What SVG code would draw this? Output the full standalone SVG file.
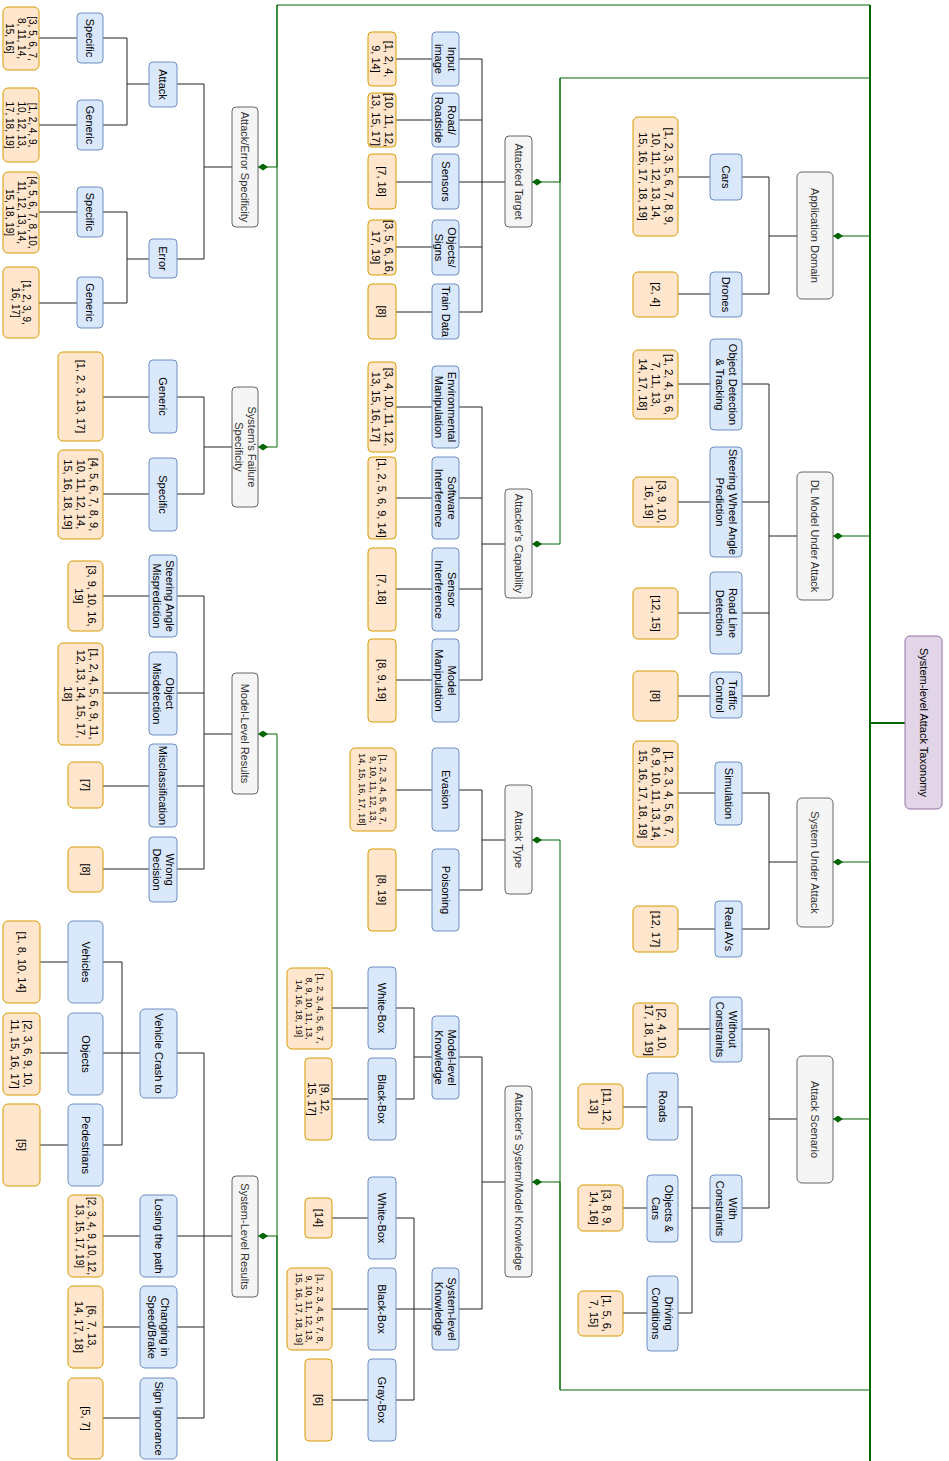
<svg xmlns="http://www.w3.org/2000/svg" width="949" height="1461" viewBox="0 0 949 1461">
<style>
text{font-family:"Liberation Sans",Arial,Helvetica,sans-serif;text-anchor:middle;fill:#000}
.f11{font-size:11px}.f10{font-size:10px}.f9{font-size:9px}
.tc{fill:#333333}
.b{fill:#dae8fc;stroke:#6c8ebf;stroke-width:1}
.o{fill:#ffe6cc;stroke:#d79b00;stroke-width:1}
.c{fill:#f5f5f5;stroke:#666666;stroke-width:1}
.r{fill:#e1d5e7;stroke:#9673a6;stroke-width:1}
.k{fill:none;stroke:#222;stroke-width:1}
.g{fill:none;stroke:#006600;stroke-width:1}
.gt{fill:none;stroke:#006600;stroke-width:2}
</style>
<defs>
<marker id="dia" viewBox="0 0 10 7" refX="10" refY="3.5" markerWidth="10" markerHeight="7" markerUnits="userSpaceOnUse" orient="auto"><path d="M0,3.5 L5,0 L10,3.5 L5,7 Z" fill="#006600"/></marker>
</defs>

<g id="connectors">
<!-- green edges -->
<path class="gt" d="M905,723 H870 M870,5 V1461"/>
<path class="g" d="M870,236 H833" marker-end="url(#dia)"/>
<path class="g" d="M870,536 H833" marker-end="url(#dia)"/>
<path class="g" d="M870,862 H833" marker-end="url(#dia)"/>
<path class="g" d="M870,1119 H833" marker-end="url(#dia)"/>
<path class="g" d="M870,78 H560 V182 H532" marker-end="url(#dia)"/>
<path class="g" d="M560,78 V544 H532" marker-end="url(#dia)"/>
<path class="g" d="M870,1390 H560 V840 H532" marker-end="url(#dia)"/>
<path class="g" d="M560,1390 V1182 H532" marker-end="url(#dia)"/>
<path class="g" d="M870,5 H277 V167 H258" marker-end="url(#dia)"/>
<path class="g" d="M277,5 V447 H258" marker-end="url(#dia)"/>
<path class="g" d="M277,1461 V734 H258" marker-end="url(#dia)"/>
<path class="g" d="M277,1461 V1236 H258" marker-end="url(#dia)"/>
<!-- black tree connectors -->
<path class="k" d="M39,38 H77 M39,125 H77 M103,38 H127 V125 H103 M127,84 H149"/>
<path class="k" d="M39,212 H77 M39,303 H77 M103,212 H127 V303 H103 M127,259 H149"/>
<path class="k" d="M177,84 H204 V259 H177 M204,167 H232"/>
<path class="k" d="M103,397 H149 M103,494 H149 M177,397 H204 V494 H177 M204,447 H232"/>
<path class="k" d="M103,596 H149 M103,693 H149 M103,786 H149 M103,869 H149 M177,596 H204 V869 H177 M177,693 H204 M177,786 H204 M204,734 H232"/>
<path class="k" d="M40,962 H68 M40,1053 H68 M40,1145 H68 M103,962 H122 V1145 H103 M103,1053 H140"/>
<path class="k" d="M103,1236 H140 M103,1327 H140 M103,1418 H140 M177,1053 H204 V1418 H177 M177,1236 H204 M177,1327 H204 M204,1236 H232"/>
<path class="k" d="M396,59 H432 M396,120 H432 M396,182 H432 M396,247 H432 M396,312 H432 M459,59 H482 V312 H459 M459,120 H482 M459,182 H505 M459,247 H482"/>
<path class="k" d="M396,407 H432 M396,498 H432 M396,589 H432 M396,680 H432 M459,407 H482 V680 H459 M459,498 H482 M459,589 H482 M482,544 H505"/>
<path class="k" d="M396,790 H432 M396,890 H432 M459,790 H482 V890 H459 M482,840 H505"/>
<path class="k" d="M332,1008 H368 M332,1099 H368 M396,1008 H414 V1099 H396 M414,1057 H432 M459,1057 H482 V1309 H459 M482,1182 H505"/>
<path class="k" d="M332,1218 H368 M332,1309 H368 M332,1400 H368 M396,1218 H414 V1400 H396 M396,1309 H432"/>
<path class="k" d="M678,177 H710 M678,294 H710 M742,177 H769 V294 H742 M769,236 H797"/>
<path class="k" d="M678,384 H710 M678,502 H710 M678,613 H710 M678,696 H710 M742,384 H769 V696 H742 M742,502 H769 M742,613 H769 M769,536 H797"/>
<path class="k" d="M678,793 H715 M678,929 H715 M742,793 H769 V929 H742 M769,862 H797"/>
<path class="k" d="M678,1029 H710 M742,1029 H769 V1208 H742 M769,1119 H797"/>
<path class="k" d="M623,1107 H647 M623,1208 H647 M623,1313 H647 M678,1107 H692 V1313 H678 M692,1208 H710"/>
</g>

<!-- root -->
<g id="root"><rect class="r" x="905" y="636" width="37" height="173" rx="5"/><text class="f11" transform="translate(923.5,722.5) rotate(90)"><tspan x="0" y="3.9">System-level Attack Taxonomy</tspan></text></g>

<!-- categories -->
<g id="cat-app"><rect class="c" x="797" y="172" width="36" height="127" rx="5"/><text class="f11 tc" transform="translate(815,235.5) rotate(90)"><tspan x="0" y="3.9">Application Domain</tspan></text></g>
<g id="cat-dl"><rect class="c" x="797" y="472" width="36" height="128" rx="5"/><text class="f11 tc" transform="translate(815,536) rotate(90)"><tspan x="0" y="3.9">DL Model Under Attack</tspan></text></g>
<g id="cat-sua"><rect class="c" x="797" y="798" width="36" height="129" rx="5"/><text class="f11 tc" transform="translate(815,862.5) rotate(90)"><tspan x="0" y="3.9">System Under Attack</tspan></text></g>
<g id="cat-scen"><rect class="c" x="797" y="1056" width="36" height="127" rx="5"/><text class="f11 tc" transform="translate(815,1119.5) rotate(90)"><tspan x="0" y="3.9">Attack Scenario</tspan></text></g>
<g id="cat-target"><rect class="c" x="505" y="136" width="27" height="91" rx="4"/><text class="f11 tc" transform="translate(518.5,181.5) rotate(90)"><tspan x="0" y="3.9">Attacked Target</tspan></text></g>
<g id="cat-cap"><rect class="c" x="505" y="489" width="27" height="109" rx="4"/><text class="f11 tc" transform="translate(518.5,543.5) rotate(90)"><tspan x="0" y="3.9">Attacker's Capability</tspan></text></g>
<g id="cat-type"><rect class="c" x="505" y="785" width="27" height="109" rx="4"/><text class="f11 tc" transform="translate(518.5,839.5) rotate(90)"><tspan x="0" y="3.9">Attack Type</tspan></text></g>
<g id="cat-know"><rect class="c" x="505" y="1086" width="27" height="191" rx="4"/><text class="f11 tc" transform="translate(518.5,1181.5) rotate(90)"><tspan x="0" y="3.9">Attacker's System/Model Knowledge</tspan></text></g>
<g id="cat-spec"><rect class="c" x="232" y="107" width="26" height="120" rx="4"/><text class="f11 tc" transform="translate(245,167) rotate(90)"><tspan x="0" y="3.9">Attack/Error Specificity</tspan></text></g>
<g id="cat-fail"><rect class="c" x="232" y="387" width="26" height="120" rx="4"/><text class="f11 tc" transform="translate(245,447) rotate(90)"><tspan x="0" y="-2.6">System's Failure</tspan><tspan x="0" dy="13">Specificity</tspan></text></g>
<g id="cat-model"><rect class="c" x="232" y="673" width="26" height="121" rx="4"/><text class="f11 tc" transform="translate(245,733.5) rotate(90)"><tspan x="0" y="3.9">Model-Level Results</tspan></text></g>
<g id="cat-sys"><rect class="c" x="232" y="1176" width="26" height="121" rx="4"/><text class="f11 tc" transform="translate(245,1236.5) rotate(90)"><tspan x="0" y="3.9">System-Level Results</tspan></text></g>

<!-- right column blue -->
<g id="b-cars"><rect class="b" x="710" y="154" width="32" height="46" rx="4"/><text class="f11" transform="translate(726,177) rotate(90)"><tspan x="0" y="3.9">Cars</tspan></text></g>
<g id="b-drones"><rect class="b" x="710" y="272" width="32" height="45" rx="4"/><text class="f11" transform="translate(726,294.5) rotate(90)"><tspan x="0" y="3.9">Drones</tspan></text></g>
<g id="b-odt"><rect class="b" x="710" y="339" width="32" height="91" rx="4"/><text class="f11" transform="translate(726,384.5) rotate(90)"><tspan x="0" y="-2.6">Object Detection</tspan><tspan x="0" dy="13">&amp; Tracking</tspan></text></g>
<g id="b-swa"><rect class="b" x="710" y="447" width="32" height="110" rx="4"/><text class="f11" transform="translate(726,502) rotate(90)"><tspan x="0" y="-2.6">Steering Wheel Angle</tspan><tspan x="0" dy="13">Prediction</tspan></text></g>
<g id="b-rld"><rect class="b" x="710" y="572" width="32" height="82" rx="4"/><text class="f11" transform="translate(726,613) rotate(90)"><tspan x="0" y="-2.6">Road Line</tspan><tspan x="0" dy="13">Detection</tspan></text></g>
<g id="b-tc"><rect class="b" x="710" y="672" width="32" height="46" rx="4"/><text class="f11" transform="translate(726,695) rotate(90)"><tspan x="0" y="-2.6">Traffic</tspan><tspan x="0" dy="13">Control</tspan></text></g>
<g id="b-sim"><rect class="b" x="715" y="762" width="27" height="63" rx="4"/><text class="f11" transform="translate(728.5,793.5) rotate(90)"><tspan x="0" y="3.9">Simulation</tspan></text></g>
<g id="b-real"><rect class="b" x="715" y="901" width="27" height="56" rx="4"/><text class="f11" transform="translate(728.5,929) rotate(90)"><tspan x="0" y="3.9">Real AVs</tspan></text></g>
<g id="b-wo"><rect class="b" x="710" y="997" width="32" height="65" rx="4"/><text class="f11" transform="translate(726,1029.5) rotate(90)"><tspan x="0" y="-2.6">Without</tspan><tspan x="0" dy="13">Constraints</tspan></text></g>
<g id="b-with"><rect class="b" x="710" y="1175" width="32" height="67" rx="4"/><text class="f11" transform="translate(726,1208.5) rotate(90)"><tspan x="0" y="-2.6">With</tspan><tspan x="0" dy="13">Constraints</tspan></text></g>
<g id="b-roads"><rect class="b" x="647" y="1073" width="31" height="67" rx="4"/><text class="f11" transform="translate(662.5,1106.5) rotate(90)"><tspan x="0" y="3.9">Roads</tspan></text></g>
<g id="b-oc"><rect class="b" x="647" y="1175" width="31" height="67" rx="4"/><text class="f11" transform="translate(662.5,1208.5) rotate(90)"><tspan x="0" y="-2.6">Objects &amp;</tspan><tspan x="0" dy="13">Cars</tspan></text></g>
<g id="b-dc"><rect class="b" x="647" y="1276" width="31" height="75" rx="4"/><text class="f11" transform="translate(662.5,1313.5) rotate(90)"><tspan x="0" y="-2.6">Driving</tspan><tspan x="0" dy="13">Conditions</tspan></text></g>

<!-- right column orange -->
<g id="o-cars"><rect class="o" x="633" y="117" width="45" height="119" rx="5"/><text class="f11" transform="translate(655.5,176.5) rotate(90)"><tspan x="0" y="-9.1">[1, 2, 3, 5, 6, 7, 8, 9,</tspan><tspan x="0" dy="13">10, 11, 12, 13, 14,</tspan><tspan x="0" dy="13">15, 16, 17, 18, 19]</tspan></text></g>
<g id="o-drones"><rect class="o" x="633" y="272" width="45" height="45" rx="5"/><text class="f11" transform="translate(655.5,294.5) rotate(90)"><tspan x="0" y="3.9">[2, 4]</tspan></text></g>
<g id="o-odt"><rect class="o" x="633" y="350" width="45" height="69" rx="5"/><text class="f11" transform="translate(655.5,384.5) rotate(90)"><tspan x="0" y="-9.1">[1, 2, 4, 5, 6,</tspan><tspan x="0" dy="13">7, 11, 13,</tspan><tspan x="0" dy="13">14, 17, 18]</tspan></text></g>
<g id="o-swa"><rect class="o" x="633" y="477" width="45" height="50" rx="5"/><text class="f11" transform="translate(655.5,502) rotate(90)"><tspan x="0" y="-2.6">[3, 9, 10,</tspan><tspan x="0" dy="13">16, 19]</tspan></text></g>
<g id="o-rld"><rect class="o" x="633" y="588" width="45" height="51" rx="5"/><text class="f11" transform="translate(655.5,613.5) rotate(90)"><tspan x="0" y="3.9">[12, 15]</tspan></text></g>
<g id="o-tc"><rect class="o" x="633" y="671" width="45" height="50" rx="5"/><text class="f11" transform="translate(655.5,696) rotate(90)"><tspan x="0" y="3.9">[8]</tspan></text></g>
<g id="o-sim"><rect class="o" x="633" y="741" width="45" height="106" rx="5"/><text class="f11" transform="translate(655.5,794) rotate(90)"><tspan x="0" y="-9.1">[1, 2, 3, 4, 5, 6, 7,</tspan><tspan x="0" dy="13">8, 9, 10, 11, 13, 14,</tspan><tspan x="0" dy="13">15, 16, 17, 18, 19]</tspan></text></g>
<g id="o-real"><rect class="o" x="633" y="906" width="45" height="46" rx="5"/><text class="f11" transform="translate(655.5,929) rotate(90)"><tspan x="0" y="3.9">[12, 17]</tspan></text></g>
<g id="o-wo"><rect class="o" x="633" y="1003" width="45" height="54" rx="5"/><text class="f11" transform="translate(655.5,1030) rotate(90)"><tspan x="0" y="-2.6">[2, 4, 10,</tspan><tspan x="0" dy="13">17, 18, 19]</tspan></text></g>
<g id="o-roads"><rect class="o" x="578" y="1084" width="45" height="45" rx="5"/><text class="f11" transform="translate(600.5,1106.5) rotate(90)"><tspan x="0" y="-2.6">[11, 12,</tspan><tspan x="0" dy="13">13]</tspan></text></g>
<g id="o-oc"><rect class="o" x="578" y="1185" width="45" height="46" rx="5"/><text class="f11" transform="translate(600.5,1208) rotate(90)"><tspan x="0" y="-2.6">[3, 8, 9,</tspan><tspan x="0" dy="13">14, 16]</tspan></text></g>
<g id="o-dc"><rect class="o" x="578" y="1291" width="45" height="45" rx="5"/><text class="f11" transform="translate(600.5,1313.5) rotate(90)"><tspan x="0" y="-2.6">[1, 5, 6,</tspan><tspan x="0" dy="13">7, 15]</tspan></text></g>

<!-- middle blue -->
<g id="b-input"><rect class="b" x="432" y="32" width="27" height="54" rx="4"/><text class="f11" transform="translate(445.5,59) rotate(90)"><tspan x="0" y="-2.6">Input</tspan><tspan x="0" dy="13">image</tspan></text></g>
<g id="b-road"><rect class="b" x="432" y="93" width="27" height="54" rx="4"/><text class="f11" transform="translate(445.5,120) rotate(90)"><tspan x="0" y="-2.6">Road/</tspan><tspan x="0" dy="13">Roadside</tspan></text></g>
<g id="b-sensors"><rect class="b" x="432" y="154" width="27" height="55" rx="4"/><text class="f11" transform="translate(445.5,181.5) rotate(90)"><tspan x="0" y="3.9">Sensors</tspan></text></g>
<g id="b-objs"><rect class="b" x="432" y="220" width="27" height="55" rx="4"/><text class="f11" transform="translate(445.5,247.5) rotate(90)"><tspan x="0" y="-2.6">Objects/</tspan><tspan x="0" dy="13">Signs</tspan></text></g>
<g id="b-train"><rect class="b" x="432" y="284" width="27" height="55" rx="4"/><text class="f11" transform="translate(445.5,311.5) rotate(90)"><tspan x="0" y="3.9">Train Data</tspan></text></g>
<g id="b-env"><rect class="b" x="432" y="366" width="27" height="82" rx="4"/><text class="f11" transform="translate(445.5,407) rotate(90)"><tspan x="0" y="-2.6">Environmental</tspan><tspan x="0" dy="13">Manipulation</tspan></text></g>
<g id="b-soft"><rect class="b" x="432" y="457" width="27" height="82" rx="4"/><text class="f11" transform="translate(445.5,498) rotate(90)"><tspan x="0" y="-2.6">Software</tspan><tspan x="0" dy="13">Interference</tspan></text></g>
<g id="b-sens"><rect class="b" x="432" y="548" width="27" height="83" rx="4"/><text class="f11" transform="translate(445.5,589.5) rotate(90)"><tspan x="0" y="-2.6">Sensor</tspan><tspan x="0" dy="13">Interference</tspan></text></g>
<g id="b-mm"><rect class="b" x="432" y="639" width="27" height="83" rx="4"/><text class="f11" transform="translate(445.5,680.5) rotate(90)"><tspan x="0" y="-2.6">Model</tspan><tspan x="0" dy="13">Manipulation</tspan></text></g>
<g id="b-eva"><rect class="b" x="432" y="748" width="27" height="83" rx="4"/><text class="f11" transform="translate(445.5,789.5) rotate(90)"><tspan x="0" y="3.9">Evasion</tspan></text></g>
<g id="b-poi"><rect class="b" x="432" y="849" width="27" height="82" rx="4"/><text class="f11" transform="translate(445.5,890) rotate(90)"><tspan x="0" y="3.9">Poisoning</tspan></text></g>
<g id="b-mk"><rect class="b" x="432" y="1016" width="27" height="83" rx="4"/><text class="f11" transform="translate(445.5,1057.5) rotate(90)"><tspan x="0" y="-2.6">Model-level</tspan><tspan x="0" dy="13">Knowledge</tspan></text></g>
<g id="b-sk"><rect class="b" x="432" y="1268" width="27" height="82" rx="4"/><text class="f11" transform="translate(445.5,1309) rotate(90)"><tspan x="0" y="-2.6">System-level</tspan><tspan x="0" dy="13">Knowledge</tspan></text></g>
<g id="b-wb1"><rect class="b" x="368" y="967" width="28" height="82" rx="4"/><text class="f11" transform="translate(382,1008) rotate(90)"><tspan x="0" y="3.9">White-Box</tspan></text></g>
<g id="b-bb1"><rect class="b" x="368" y="1058" width="28" height="82" rx="4"/><text class="f11" transform="translate(382,1099) rotate(90)"><tspan x="0" y="3.9">Black-Box</tspan></text></g>
<g id="b-wb2"><rect class="b" x="368" y="1177" width="28" height="82" rx="4"/><text class="f11" transform="translate(382,1218) rotate(90)"><tspan x="0" y="3.9">White-Box</tspan></text></g>
<g id="b-bb2"><rect class="b" x="368" y="1268" width="28" height="82" rx="4"/><text class="f11" transform="translate(382,1309) rotate(90)"><tspan x="0" y="3.9">Black-Box</tspan></text></g>
<g id="b-gb"><rect class="b" x="368" y="1359" width="28" height="82" rx="4"/><text class="f11" transform="translate(382,1400) rotate(90)"><tspan x="0" y="3.9">Gray-Box</tspan></text></g>

<!-- middle orange -->
<g id="o-input"><rect class="o" x="368" y="32" width="28" height="54" rx="4"/><text class="f11" transform="translate(382,59) rotate(90)"><tspan x="0" y="-2.6">[1, 2, 4,</tspan><tspan x="0" dy="13">9, 14]</tspan></text></g>
<g id="o-road"><rect class="o" x="368" y="93" width="28" height="54" rx="4"/><text class="f11" transform="translate(382,120) rotate(90)"><tspan x="0" y="-2.6">[10, 11, 12,</tspan><tspan x="0" dy="13">13, 15, 17]</tspan></text></g>
<g id="o-sensors"><rect class="o" x="368" y="154" width="28" height="55" rx="4"/><text class="f11" transform="translate(382,181.5) rotate(90)"><tspan x="0" y="3.9">[7, 18]</tspan></text></g>
<g id="o-objs"><rect class="o" x="368" y="220" width="28" height="55" rx="4"/><text class="f11" transform="translate(382,247.5) rotate(90)"><tspan x="0" y="-2.6">[3, 5, 6, 16,</tspan><tspan x="0" dy="13">17, 19]</tspan></text></g>
<g id="o-train"><rect class="o" x="368" y="284" width="28" height="55" rx="4"/><text class="f11" transform="translate(382,311.5) rotate(90)"><tspan x="0" y="3.9">[8]</tspan></text></g>
<g id="o-env"><rect class="o" x="368" y="362" width="28" height="90" rx="4"/><text class="f11" transform="translate(382,407) rotate(90)"><tspan x="0" y="-2.6">[3, 4, 10, 11, 12,</tspan><tspan x="0" dy="13">13, 15, 16, 17]</tspan></text></g>
<g id="o-soft"><rect class="o" x="368" y="457" width="28" height="82" rx="4"/><text class="f11" transform="translate(382,498) rotate(90)"><tspan x="0" y="3.9">[1, 2, 5, 6, 9, 14]</tspan></text></g>
<g id="o-sens"><rect class="o" x="368" y="548" width="28" height="83" rx="4"/><text class="f11" transform="translate(382,589.5) rotate(90)"><tspan x="0" y="3.9">[7, 18]</tspan></text></g>
<g id="o-mm"><rect class="o" x="368" y="639" width="28" height="83" rx="4"/><text class="f11" transform="translate(382,680.5) rotate(90)"><tspan x="0" y="3.9">[8, 9, 19]</tspan></text></g>
<g id="o-eva"><rect class="o" x="350" y="748" width="46" height="83" rx="5"/><text class="f9" transform="translate(373,789.5) rotate(90)"><tspan x="0" y="-7.35">[1, 2, 3, 4, 5, 6, 7,</tspan><tspan x="0" dy="10.5">9, 10, 11, 12, 13,</tspan><tspan x="0" dy="10.5">14, 15, 16, 17, 18]</tspan></text></g>
<g id="o-poi"><rect class="o" x="368" y="849" width="28" height="82" rx="4"/><text class="f11" transform="translate(382,890) rotate(90)"><tspan x="0" y="3.9">[8, 19]</tspan></text></g>
<g id="o-wb1"><rect class="o" x="287" y="968" width="45" height="81" rx="5"/><text class="f9" transform="translate(309.5,1008.5) rotate(90)"><tspan x="0" y="-7.35">[1, 2, 3, 4, 5, 6, 7,</tspan><tspan x="0" dy="10.5">8, 9, 10, 11, 13,</tspan><tspan x="0" dy="10.5">14, 16, 18, 19]</tspan></text></g>
<g id="o-bb1"><rect class="o" x="305" y="1058" width="27" height="82" rx="4"/><text class="f11" transform="translate(318.5,1099) rotate(90)"><tspan x="0" y="-2.6">[9, 12,</tspan><tspan x="0" dy="13">15, 17]</tspan></text></g>
<g id="o-wb2"><rect class="o" x="305" y="1198" width="27" height="40" rx="4"/><text class="f11" transform="translate(318.5,1218) rotate(90)"><tspan x="0" y="3.9">[14]</tspan></text></g>
<g id="o-bb2"><rect class="o" x="287" y="1268" width="45" height="82" rx="5"/><text class="f9" transform="translate(309.5,1309) rotate(90)"><tspan x="0" y="-7.35">[1, 2, 3, 4, 5, 7, 8,</tspan><tspan x="0" dy="10.5">9, 10, 11, 12, 13,</tspan><tspan x="0" dy="10.5">15, 16, 17, 18, 19]</tspan></text></g>
<g id="o-gb"><rect class="o" x="305" y="1359" width="27" height="82" rx="4"/><text class="f11" transform="translate(318.5,1400) rotate(90)"><tspan x="0" y="3.9">[6]</tspan></text></g>

<!-- left blue -->
<g id="b-spec1"><rect class="b" x="77" y="13" width="26" height="50" rx="4"/><text class="f11" transform="translate(90,38) rotate(90)"><tspan x="0" y="3.9">Specific</tspan></text></g>
<g id="b-gen1"><rect class="b" x="77" y="100" width="26" height="50" rx="4"/><text class="f11" transform="translate(90,125) rotate(90)"><tspan x="0" y="3.9">Generic</tspan></text></g>
<g id="b-spec2"><rect class="b" x="77" y="187" width="26" height="50" rx="4"/><text class="f11" transform="translate(90,212) rotate(90)"><tspan x="0" y="3.9">Specific</tspan></text></g>
<g id="b-gen2"><rect class="b" x="77" y="277" width="26" height="51" rx="4"/><text class="f11" transform="translate(90,302.5) rotate(90)"><tspan x="0" y="3.9">Generic</tspan></text></g>
<g id="b-attack"><rect class="b" x="149" y="62" width="28" height="45" rx="4"/><text class="f11" transform="translate(163,84.5) rotate(90)"><tspan x="0" y="3.9">Attack</tspan></text></g>
<g id="b-error"><rect class="b" x="149" y="239" width="28" height="39" rx="4"/><text class="f11" transform="translate(163,258.5) rotate(90)"><tspan x="0" y="3.9">Error</tspan></text></g>
<g id="b-gen3"><rect class="b" x="149" y="360" width="28" height="73" rx="4"/><text class="f11" transform="translate(163,396.5) rotate(90)"><tspan x="0" y="3.9">Generic</tspan></text></g>
<g id="b-spec3"><rect class="b" x="149" y="458" width="28" height="73" rx="4"/><text class="f11" transform="translate(163,494.5) rotate(90)"><tspan x="0" y="3.9">Specific</tspan></text></g>
<g id="b-sam"><rect class="b" x="149" y="555" width="28" height="82" rx="4"/><text class="f11" transform="translate(163,596) rotate(90)"><tspan x="0" y="-2.6">Steering Angle</tspan><tspan x="0" dy="13">Misprediction</tspan></text></g>
<g id="b-om"><rect class="b" x="149" y="652" width="28" height="83" rx="4"/><text class="f11" transform="translate(163,693.5) rotate(90)"><tspan x="0" y="-2.6">Object</tspan><tspan x="0" dy="13">Misdetection</tspan></text></g>
<g id="b-mis"><rect class="b" x="149" y="744" width="28" height="83" rx="4"/><text class="f11" transform="translate(163,785.5) rotate(90)"><tspan x="0" y="3.9">Misclassification</tspan></text></g>
<g id="b-wd"><rect class="b" x="149" y="837" width="28" height="65" rx="4"/><text class="f11" transform="translate(163,869.5) rotate(90)"><tspan x="0" y="-2.6">Wrong</tspan><tspan x="0" dy="13">Decision</tspan></text></g>
<g id="b-vct"><rect class="b" x="140" y="1009" width="37" height="89" rx="5"/><text class="f11" transform="translate(158.5,1053.5) rotate(90)"><tspan x="0" y="3.9">Vehicle Crash to</tspan></text></g>
<g id="b-ltp"><rect class="b" x="140" y="1195" width="37" height="82" rx="5"/><text class="f11" transform="translate(158.5,1236) rotate(90)"><tspan x="0" y="3.9">Losing the path</tspan></text></g>
<g id="b-cis"><rect class="b" x="140" y="1286" width="37" height="82" rx="5"/><text class="f11" transform="translate(158.5,1327) rotate(90)"><tspan x="0" y="-2.6">Changing in</tspan><tspan x="0" dy="13">Speed/Brake</tspan></text></g>
<g id="b-si"><rect class="b" x="140" y="1378" width="37" height="81" rx="5"/><text class="f11" transform="translate(158.5,1418.5) rotate(90)"><tspan x="0" y="3.9">Sign Ignorance</tspan></text></g>
<g id="b-veh"><rect class="b" x="68" y="921" width="35" height="82" rx="5"/><text class="f11" transform="translate(85.5,962) rotate(90)"><tspan x="0" y="3.9">Vehicles</tspan></text></g>
<g id="b-obj"><rect class="b" x="68" y="1013" width="35" height="82" rx="5"/><text class="f11" transform="translate(85.5,1054) rotate(90)"><tspan x="0" y="3.9">Objects</tspan></text></g>
<g id="b-ped"><rect class="b" x="68" y="1104" width="35" height="82" rx="5"/><text class="f11" transform="translate(85.5,1145) rotate(90)"><tspan x="0" y="3.9">Pedestrians</tspan></text></g>

<!-- left orange -->
<g id="o-spec1"><rect class="o" x="3" y="7" width="36" height="63" rx="5"/><text class="f10" transform="translate(21,38.5) rotate(90)"><tspan x="0" y="-8">[3, 5, 6, 7,</tspan><tspan x="0" dy="11.5">8, 11, 14,</tspan><tspan x="0" dy="11.5">15, 16]</tspan></text></g>
<g id="o-gen1"><rect class="o" x="3" y="88" width="36" height="74" rx="5"/><text class="f10" transform="translate(21,125) rotate(90)"><tspan x="0" y="-8">[1, 2, 4, 9,</tspan><tspan x="0" dy="11.5">10, 12, 13,</tspan><tspan x="0" dy="11.5">17, 18, 19]</tspan></text></g>
<g id="o-spec2"><rect class="o" x="3" y="172" width="36" height="81" rx="5"/><text class="f10" transform="translate(21,212.5) rotate(90)"><tspan x="0" y="-8">[4, 5, 6, 7, 8, 10,</tspan><tspan x="0" dy="11.5">11, 12, 13, 14,</tspan><tspan x="0" dy="11.5">15, 18, 19]</tspan></text></g>
<g id="o-gen2"><rect class="o" x="3" y="267" width="36" height="71" rx="5"/><text class="f10" transform="translate(21,302.5) rotate(90)"><tspan x="0" y="-2.25">[1, 2, 3, 9,</tspan><tspan x="0" dy="11.5">16, 17]</tspan></text></g>
<g id="o-gen3"><rect class="o" x="58" y="352" width="45" height="89" rx="5"/><text class="f11" transform="translate(80.5,396.5) rotate(90)"><tspan x="0" y="3.9">[1, 2, 3, 13, 17]</tspan></text></g>
<g id="o-spec3"><rect class="o" x="58" y="450" width="45" height="89" rx="5"/><text class="f11" transform="translate(80.5,494.5) rotate(90)"><tspan x="0" y="-9.1">[4, 5, 6, 7, 8, 9,</tspan><tspan x="0" dy="13">10, 11, 12, 14,</tspan><tspan x="0" dy="13">15, 16, 18, 19]</tspan></text></g>
<g id="o-sam"><rect class="o" x="68" y="561" width="35" height="70" rx="5"/><text class="f11" transform="translate(85.5,596) rotate(90)"><tspan x="0" y="-2.6">[3, 9, 10, 16,</tspan><tspan x="0" dy="13">19]</tspan></text></g>
<g id="o-om"><rect class="o" x="58" y="643" width="45" height="102" rx="5"/><text class="f11" transform="translate(80.5,694) rotate(90)"><tspan x="0" y="-9.1">[1, 2, 4, 5, 6, 9, 11,</tspan><tspan x="0" dy="13">12, 13, 14, 15, 17,</tspan><tspan x="0" dy="13">18]</tspan></text></g>
<g id="o-mis"><rect class="o" x="68" y="762" width="35" height="46" rx="5"/><text class="f11" transform="translate(85.5,785) rotate(90)"><tspan x="0" y="3.9">[7]</tspan></text></g>
<g id="o-wd"><rect class="o" x="68" y="847" width="35" height="45" rx="5"/><text class="f11" transform="translate(85.5,869.5) rotate(90)"><tspan x="0" y="3.9">[8]</tspan></text></g>
<g id="o-veh"><rect class="o" x="3" y="921" width="37" height="82" rx="5"/><text class="f11" transform="translate(21.5,962) rotate(90)"><tspan x="0" y="3.9">[1, 8, 10, 14]</tspan></text></g>
<g id="o-obj"><rect class="o" x="3" y="1013" width="37" height="82" rx="5"/><text class="f11" transform="translate(21.5,1054) rotate(90)"><tspan x="0" y="-2.6">[2, 3, 6, 9, 10,</tspan><tspan x="0" dy="13">11, 15, 16, 17]</tspan></text></g>
<g id="o-ped"><rect class="o" x="3" y="1104" width="37" height="82" rx="5"/><text class="f11" transform="translate(21.5,1145) rotate(90)"><tspan x="0" y="3.9">[5]</tspan></text></g>
<g id="o-ltp"><rect class="o" x="68" y="1195" width="35" height="82" rx="5"/><text class="f10" transform="translate(85.5,1236) rotate(90)"><tspan x="0" y="-2.25">[2, 3, 4, 9, 10, 12,</tspan><tspan x="0" dy="11.5">13, 15, 17, 19]</tspan></text></g>
<g id="o-cis"><rect class="o" x="68" y="1286" width="35" height="82" rx="5"/><text class="f11" transform="translate(85.5,1327) rotate(90)"><tspan x="0" y="-2.6">[6, 7, 13,</tspan><tspan x="0" dy="13">14, 17, 18]</tspan></text></g>
<g id="o-si"><rect class="o" x="68" y="1378" width="35" height="81" rx="5"/><text class="f11" transform="translate(85.5,1418.5) rotate(90)"><tspan x="0" y="3.9">[5, 7]</tspan></text></g>
</svg>
